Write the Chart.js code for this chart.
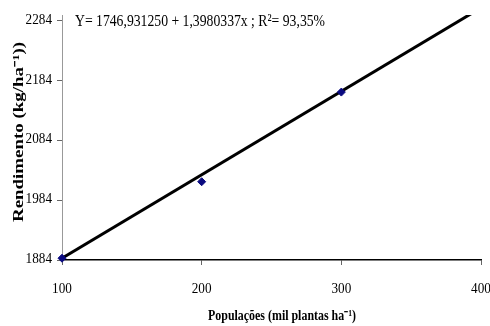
<!DOCTYPE html>
<html>
<head>
<meta charset="utf-8">
<script src="https://cdn.jsdelivr.net/npm/chart.js@4"></script>
<style>
  html, body { margin: 0; padding: 0; background: #fff; }
  #wrap { width: 490px; height: 326px; }
</style>
</head>
<body>
<div id="wrap"><canvas id="chart"></canvas></div>
<script>
// observed means
const popX = [100, 200, 300];
const yieldY = [1887, 2015, 2165];

// fitted line end points (Y = 1746,931250 + 1,3980337x)
const trendX = [100, 400];
const trendY = [1887, 2306];

const yTicks = [1884, 1984, 2084, 2184, 2284];
const xTicks = [100, 200, 300, 400];

const eqText = "Y= 1746,931250 + 1,3980337x ; R\u00b2= 93,35%";
const xTitle = "Popula\u00e7\u00f5es (mil plantas ha\u207b\u00b9)";
const yTitle = "Rendimento (kg/ha\u207b\u00b9))";

// narrow Times-like text, either squeezed to a width or by a factor
function narrow(ctx, text, x, y, o) {
  ctx.save();
  ctx.font = o.font;
  ctx.fillStyle = "#000";
  ctx.textAlign = o.align || "center";
  ctx.textBaseline = "middle";
  ctx.translate(x, y);
  if (o.rot) ctx.rotate(o.rot);
  const sx = o.width ? o.width / ctx.measureText(text).width : o.sx;
  ctx.scale(sx, 1);
  ctx.fillText(text, 0, 0);
  ctx.restore();
}

const labels = {
  id: "labels",
  afterDraw(chart) {
    const ctx = chart.ctx;
    const xs = chart.scales.x, ys = chart.scales.y;
    const tickFont = "15px 'Liberation Serif'";
    xTicks.forEach(v => narrow(ctx, String(v), xs.getPixelForValue(v), 289, { font: tickFont, sx: 0.88 }));
    yTicks.forEach(v => narrow(ctx, String(v), 52, ys.getPixelForValue(v) - 1, { font: tickFont, sx: 0.88, align: "right" }));
    narrow(ctx, eqText, 200, 22, { font: "17px 'Liberation Serif'", width: 250 });
    narrow(ctx, xTitle, 282, 316, { font: "bold 14px 'Liberation Serif'", width: 148 });
    narrow(ctx, yTitle, 19, 132, { font: "bold 14px 'Liberation Serif'", width: 180, rot: -Math.PI / 2 });
  }
};

new Chart(document.getElementById("chart"), {
  type: "scatter",
  data: {
    datasets: [
      {
        type: "line",
        data: trendX.map((x, i) => ({ x: x, y: trendY[i] })),
        borderColor: "#000",
        borderWidth: 3,
        pointRadius: 0,
        order: 2,
      },
      {
        data: popX.map((x, i) => ({ x: x, y: yieldY[i] })),
        pointStyle: "rectRot",
        pointRadius: 4,
        backgroundColor: "#0a0a80",
        borderColor: "#0a0a80",
        clip: false,
        order: 1,
      },
    ],
  },
  options: {
    responsive: true,
    maintainAspectRatio: false,
    animation: false,
    layout: { padding: { top: 15, right: 9, left: 0, bottom: 0 } },
    plugins: { legend: { display: false }, tooltip: { enabled: false } },
    scales: {
      x: {
        type: "linear",
        min: 100,
        max: 400,
        afterBuildTicks: (s) => { s.ticks = xTicks.map(v => ({ value: v })); },
        afterFit: (s) => { s.height = 66; s.paddingRight = 0; s.paddingLeft = 0; },
        grid: { drawOnChartArea: false, drawTicks: true, tickLength: 5, color: "#666" },
        border: { color: "#000", width: 1.5 },
        ticks: { display: false },
      },
      y: {
        min: 1884,
        max: 2294,
        afterBuildTicks: (s) => { s.ticks = yTicks.map(v => ({ value: v })); },
        afterFit: (s) => { s.width = 62; s.paddingTop = 0; s.paddingBottom = 0; },
        grid: { drawOnChartArea: false, drawTicks: true, tickLength: 5, color: "#666" },
        border: { color: "#999", width: 1 },
        ticks: { display: false },
      },
    },
  },
  plugins: [labels],
});
</script>
</body>
</html>
